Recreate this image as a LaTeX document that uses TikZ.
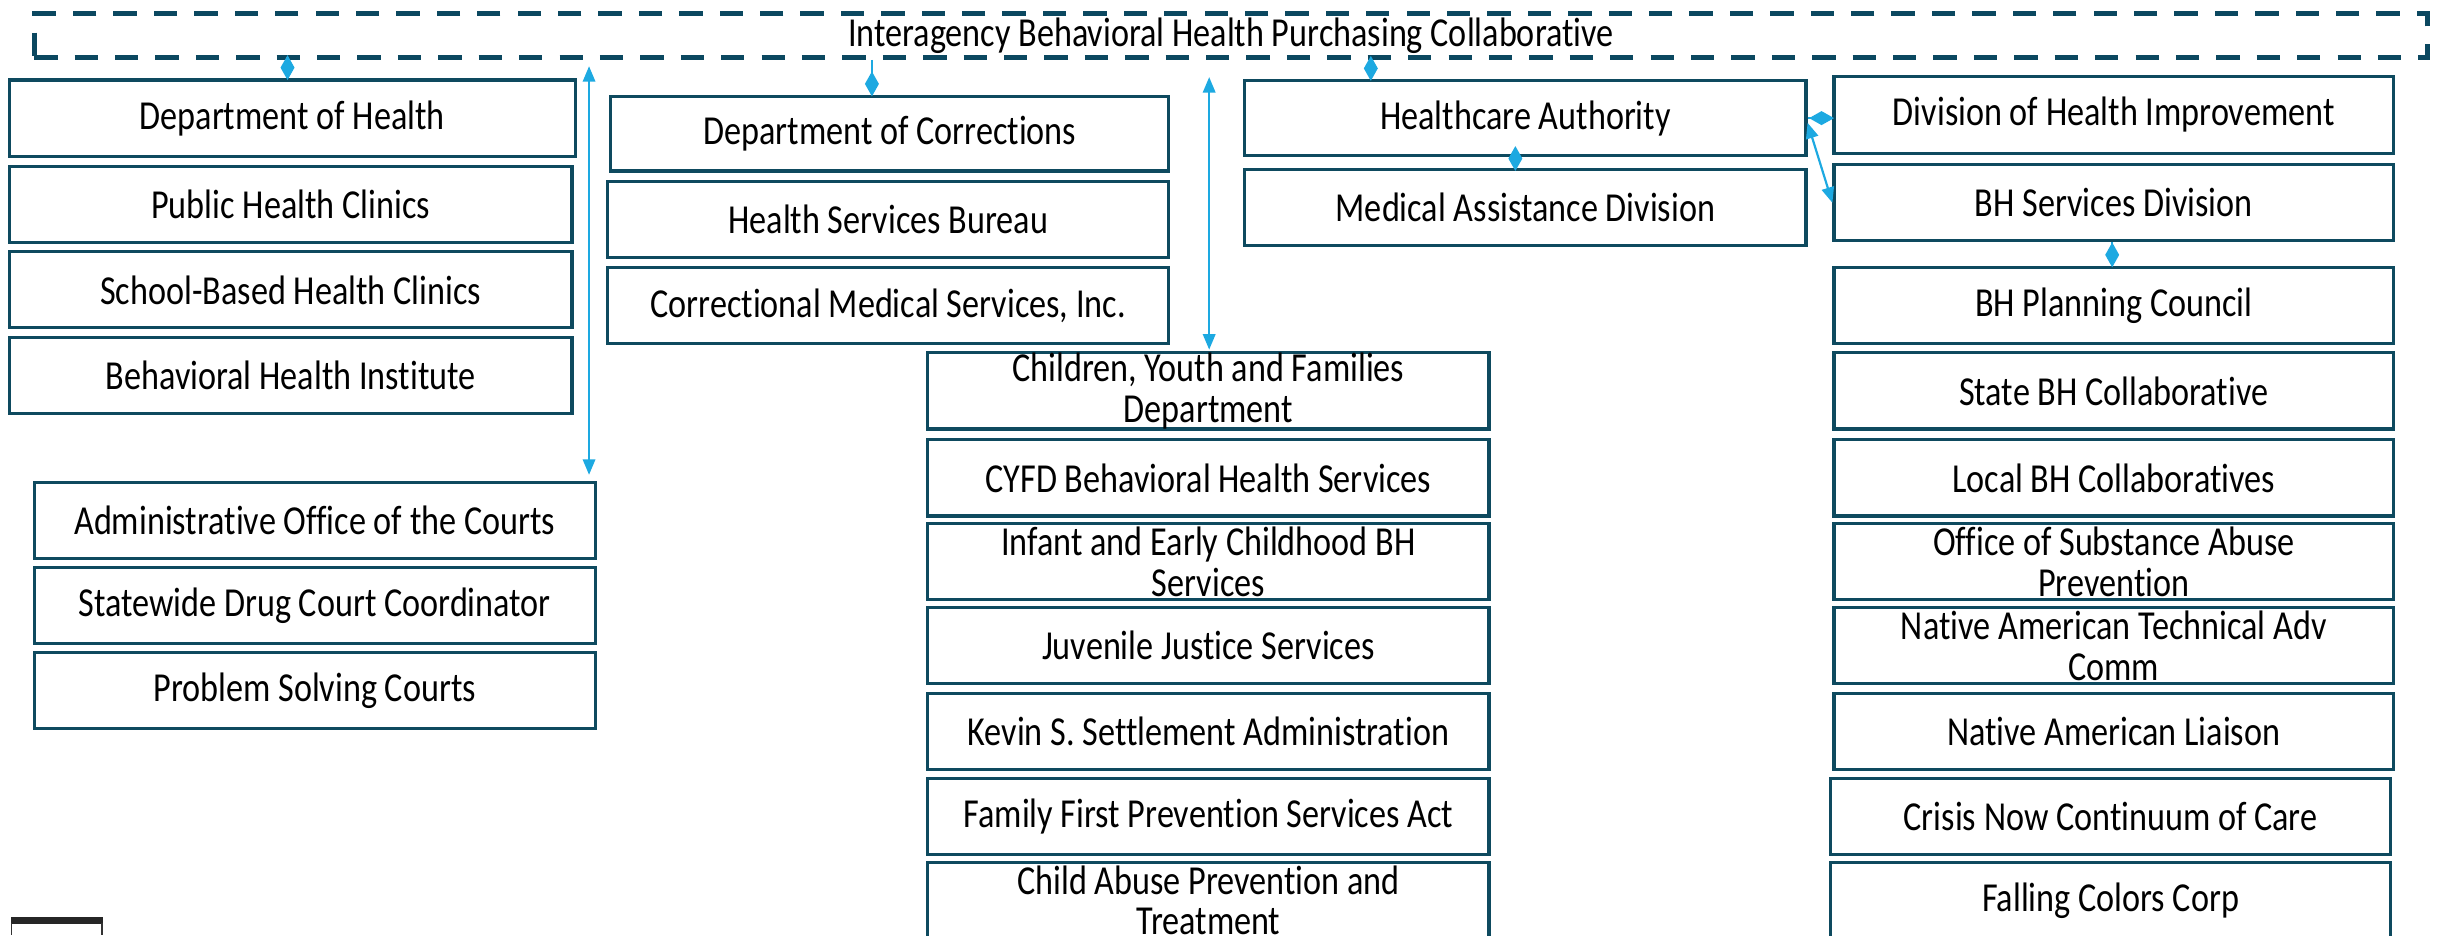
\documentclass[tikz,border=0pt]{standalone}
\usepackage{fontspec}
\setmainfont{Carlito}[Ligatures={NoCommon,NoContextual}, FakeStretch=0.83]
\usetikzlibrary{arrows.meta}
\definecolor{boxc}{HTML}{0E4A5F}
\definecolor{dashc}{HTML}{0B4860}
\definecolor{arrc}{HTML}{1DA9E1}
\tikzset{
  box/.style={draw=boxc, line width=2pt, fill=white, inner sep=0pt, align=center,
    font=\fontsize{26.5}{26.4}\selectfont, minimum height=49pt, minimum width=361pt},
  barbox/.style={draw=dashc, line width=3.2pt, dash pattern=on 15pt off 11pt, inner sep=0pt,
    font=\fontsize{26.5}{26.4}\selectfont, minimum width=1540pt, minimum height=28pt},
  arr/.style={draw=arrc, line width=1.4pt, {Triangle[length=10pt,width=8pt]}-{Triangle[length=10pt,width=8pt]}},
  dia/.style={draw=arrc, line width=1.4pt, -{Diamond[length=16pt,width=9pt]}, shorten >=-1pt},
}
\begin{document}
\begin{tikzpicture}[x=1pt,y=-1pt]
\useasboundingbox (0,0) rectangle (1568,601.6);
\fill[white] (0,0) rectangle (1568,601.6);
\node[barbox] (bar) at (792,23) {Interagency Behavioral Health Purchasing Collaborative};
% left column
\node[box, minimum width=364pt] (doh) at (188,76) {Department of Health};
\node[box, minimum width=362pt] (phc) at (187,131.5) {Public Health Clinics};
\node[box, minimum width=362pt] (sbhc) at (187,186.5) {School-Based Health Clinics};
\node[box, minimum width=362pt] (bhi) at (187,241.5) {Behavioral Health Institute};
% courts
\node[box] (aoc) at (202.5,335) {Administrative Office of the Courts};
\node[box] (sdcc) at (202.5,389.5) {Statewide Drug Court Coordinator};
\node[box] (psc) at (202.5,444.5) {Problem Solving Courts};
% corrections
\node[box, minimum width=359pt, minimum height=48pt] (doc) at (572.5,86) {Department of Corrections};
\node[box] (hsb) at (571.5,141) {Health Services Bureau};
\node[box] (cms) at (571.5,196.5) {Correctional Medical Services, Inc.};
% CYFD
\node[box] (cyfd) at (777.5,251.5) {Children, Youth and Families\\Department};
\node[box] (cbhs) at (777.5,307.5) {CYFD Behavioral Health Services};
\node[box] (iec) at (777.5,361.5) {Infant and Early Childhood BH\\Services};
\node[box] (jjs) at (777.5,415.5) {Juvenile Justice Services};
\node[box] (ksa) at (777.5,470.5) {Kevin S. Settlement Administration};
\node[box] (ffp) at (777.5,525.5) {Family First Prevention Services Act};
\node[box, font=\fontsize{26.5}{25.6}\selectfont] (capt) at (777.5,579.5) {Child Abuse Prevention and\\Treatment};
% HCA
\node[box, minimum height=48pt] (ha) at (981.5,76) {Healthcare Authority};
\node[box] (mad) at (981.5,133.5) {Medical Assistance Division};
% right column
\node[box, minimum width=360pt, minimum height=50pt] (dhi) at (1360,74) {Division of Health Improvement};
\node[box, minimum width=360pt] (bhsd) at (1360,130.5) {BH Services Division};
\node[box, minimum width=360pt] (bhpc) at (1360,196.5) {BH Planning Council};
\node[box, minimum width=360pt] (sbc) at (1360,251.5) {State BH Collaborative};
\node[box, minimum width=360pt] (lbc) at (1360,307.5) {Local BH Collaboratives};
\node[box, minimum width=360pt] (osap) at (1360,361.5) {Office of Substance Abuse\\Prevention};
\node[box, minimum width=360pt] (natac) at (1360,415.5) {Native American Technical Adv\\Comm};
\node[box, minimum width=360pt] (nal) at (1360,470.5) {Native American Liaison};
\node[box, minimum width=360pt] (cnc) at (1358,525.5) {Crisis Now Continuum of Care};
\node[box, minimum width=360pt] (fcc) at (1358,579.5) {Falling Colors Corp};
% connectors
\coordinate (x1) at (185,0);
\coordinate (x2) at (561,0);
\coordinate (x3) at (882,0);
\coordinate (a1) at (379,0);
\coordinate (a2) at (778,0);
\coordinate (x4) at (975,0);
\coordinate (x5) at (1359,0);
\draw[dia] (bar.south -| x1) -- (doh.north -| x1);
\draw[dia] (bar.south -| x2) -- (doc.north -| x2);
\draw[dia] (bar.south -| x3) -- (ha.north -| x3);
\draw[arr, shorten <=4pt, shorten >=4pt] (bar.south -| a1) -- (aoc.north -| a1);
\draw[arr, shorten <=11pt, shorten >=1pt] (bar.south -| a2) -- (cyfd.north -| a2);
\draw[dia, shorten <=-5pt, shorten >=-2pt] (ha.south -| x4) -- (mad.north -| x4);
\draw[dia] (ha.east) -- (ha.east -| dhi.west);
\draw[arr] ([yshift=-3pt]ha.east) -- (bhsd.west);
\draw[dia] (bhsd.south -| x5) -- (bhpc.north -| x5);
% stray frame fragment at bottom left
\fill[black!85] (7,590) rectangle (66,594.5);
\draw[black!80, line width=1pt] (7.5,594) -- (7.5,601.6) (65.5,594) -- (65.5,601.6);
\end{tikzpicture}
\end{document}
